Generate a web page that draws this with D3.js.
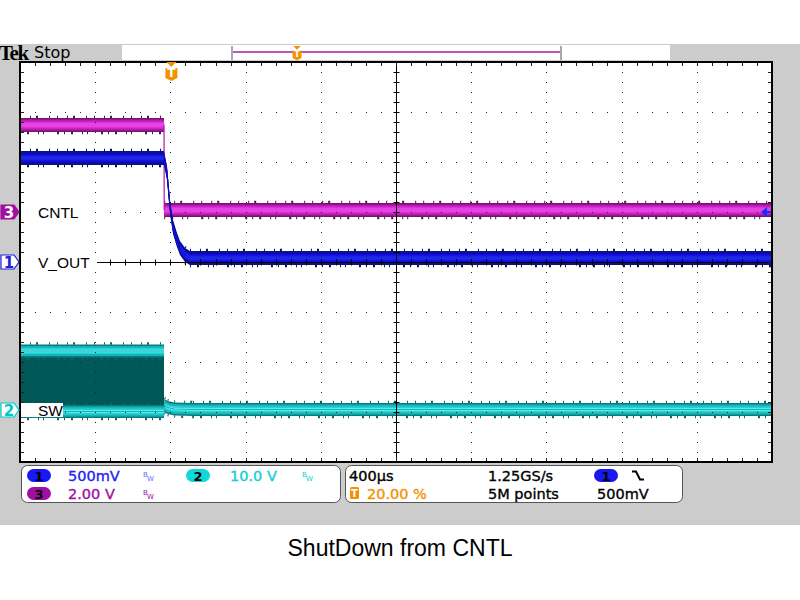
<!DOCTYPE html>
<html>
<head>
<meta charset="utf-8">
<script src="https://cdn.jsdelivr.net/npm/d3@7"></script>
<style>
  body { margin: 0; background: #fff; }
  svg text { font-family: "DejaVu Sans", sans-serif; }
  .ro { stroke-width: 0.35px; }
</style>
</head>
<body>
<svg id="scope" width="800" height="600"></svg>
<script>
// horizontal: 400 us/div over 10 div, trigger at 20 %
var timeRange = [-800, 3200];
// vertical settings per channel (V/div, ground position in div)
var ch1Scale = 0.5, ch1Pos = 0;
var ch2Scale = 10, ch2Pos = -2.96;
var ch3Scale = 2, ch3Pos = 1;

// CH3 CNTL
var cntlTime  = [-800, -34, -33, 3200];
var cntlVolts = [3.48, 3.48, 0.08, 0.08];
// CH1 V_OUT
var voutTime  = [-800, -34, -18, -2, 14, 35, 51, 78, 104, 3200];
var voutVolts = [1.04, 1.04, 0.89, 0.55, 0.35, 0.22, 0.14, 0.07, 0.04, 0.04];
// CH2 SW, switching burst before shutdown then the off level
var swBurstTime = [-800, -34];
var swBurstHigh = [11.8, 11.8];
var swBurstLow  = [-0.3, -0.3];
var swOffTime  = [-34, -31, -15, 20, 120, 3200];
var swOffVolts = [0, 0.9, 0.5, 0.2, 0.1, 0.1];

var chanLabels = ["CNTL", "V_OUT", "SW"];
var readCh = ["500mV", "10.0 V", "2.00 V"];
var readTime = ["400\u00b5s", "1.25GS/s", "20.00 %", "5M points", "500mV"];
var title = "ShutDown from CNTL";

var L = 20, R = 772, T = 62, B = 462;
var svg = d3.select("#scope");

svg.append("rect").attr("x", 0).attr("y", 44).attr("width", 800).attr("height", 481).attr("fill", "#cccccc");
svg.append("rect").attr("x", L).attr("y", T).attr("width", R - L).attr("height", B - T).attr("fill", "#fff");

var x = d3.scaleLinear().domain(timeRange).range([L, R]);
function chanY(vdiv, pos) {
  return d3.scaleLinear().domain([(-4 - pos) * vdiv, (4 - pos) * vdiv]).range([B, T]);
}
var y1 = chanY(ch1Scale, ch1Pos), y2 = chanY(ch2Scale, ch2Pos), y3 = chanY(ch3Scale, ch3Pos);

svg.append("clipPath").attr("id", "clip").append("rect")
  .attr("x", L).attr("y", T).attr("width", R - L).attr("height", B - T);
var plot = svg.append("g").attr("clip-path", "url(#clip)");

// thick noisy scope trace: layered bands, thin core and dashed spikes on the flat runs
function band(g, pts, y, layers, dark) {
  var h0 = layers[0][0];
  var flat = d3.pairs(pts).filter(function(p) {
    return Math.abs(y(p[0][1]) - y(p[1][1])) < 3;
  });
  flat.forEach(function(seg) {
    [-h0 - 1, h0 + 1].forEach(function(off, i) {
      g.append("path").datum(seg)
        .attr("d", d3.line().x(function(d) { return x(d[0]); }).y(function(d) { return y(d[1]) + off; }))
        .attr("fill", "none").attr("stroke", dark).attr("stroke-width", 2.5)
        .attr("stroke-dasharray", i ? "1,6,2,9,1,4,1,13,2,5" : "1,9,1,5,2,11,1,7");
    });
  });
  layers.forEach(function(l) {
    g.append("path").datum(pts)
      .attr("d", d3.area().x(function(d) { return x(d[0]); })
        .y0(function(d) { return y(d[1]) - l[0]; })
        .y1(function(d) { return y(d[1]) + l[0]; }))
      .attr("fill", l[1]);
  });
  g.append("path").datum(pts)
    .attr("d", d3.line().x(function(d) { return x(d[0]); }).y(function(d) { return y(d[1]); }))
    .attr("fill", "none").attr("stroke", layers[1][1]).attr("stroke-width", 1.2);
}

var cyanLayers = [[6.5, "#0a7c7e"], [5, "#16b4b6"], [3, "#26d2d4"], [1.2, "#6cf2f2"]];
var magLayers  = [[7, "#6c1a62"], [5.5, "#b818ae"], [3.5, "#e02ce0"], [1.2, "#ff7aff"]];
var blueLayers = [[7, "#0c1470"], [5.5, "#0a0ab8"], [3.5, "#1414e6"], [1.2, "#3a48ff"]];

// SW burst fill
var burst = d3.zip(swBurstTime, swBurstHigh, swBurstLow);
plot.append("path").datum(burst)
  .attr("d", d3.area().x(function(d) { return x(d[0]); })
    .y0(function(d) { return y2(d[1]) - 6; }).y1(function(d) { return y2(d[2]) + 6; }))
  .attr("fill", "#005858");
band(plot, d3.zip(swBurstTime, swBurstHigh), y2, cyanLayers, "#0a6a6a");
band(plot, d3.zip(swBurstTime, swBurstLow), y2, cyanLayers, "#0a6a6a");
band(plot, d3.zip(swOffTime, swOffVolts), y2, cyanLayers, "#0a6a6a");
band(plot, d3.zip(cntlTime, cntlVolts), y3, magLayers, "#5a1050");
band(plot, d3.zip(voutTime, voutVolts), y1, blueLayers, "#0a1060");

// graticule
var gx = d3.scaleLinear().domain([0, 10]).range([L, R]);
var gy = d3.scaleLinear().domain([0, 8]).range([T, B]);
var grid = svg.append("g");
var minorX = d3.range(0, 50.5).map(function(i) { return i / 5; });
var minorY = d3.range(0, 40.5).map(function(i) { return i / 5; });
d3.range(1, 10).filter(function(k) { return k !== 5; }).forEach(function(k) {
  grid.selectAll(null).data(minorY).enter().append("rect")
    .attr("x", Math.round(gx(k))).attr("y", function(d) { return Math.round(gy(d)); })
    .attr("width", 1).attr("height", 1).attr("fill", "#222");
});
d3.range(1, 8).filter(function(k) { return k !== 4; }).forEach(function(k) {
  grid.selectAll(null).data(minorX).enter().append("rect")
    .attr("x", function(d) { return Math.round(gx(d)); }).attr("y", Math.round(gy(k)))
    .attr("width", 1).attr("height", 1).attr("fill", "#222");
});
var cx = Math.round(gx(5)) + 0.5, cy = Math.round(gy(4)) + 0.5;
grid.append("line").attr("x1", cx).attr("x2", cx).attr("y1", T).attr("y2", B).attr("stroke", "#000");
grid.append("line").attr("x1", L).attr("x2", R).attr("y1", cy).attr("y2", cy).attr("stroke", "#000");
grid.selectAll(null).data(minorY).enter().append("line")
  .attr("x1", cx - 3).attr("x2", cx + 3)
  .attr("y1", function(d) { return Math.round(gy(d)) + 0.5; }).attr("y2", function(d) { return Math.round(gy(d)) + 0.5; })
  .attr("stroke", "#000");
grid.selectAll(null).data(minorX).enter().append("line")
  .attr("y1", cy - 3).attr("y2", cy + 3)
  .attr("x1", function(d) { return Math.round(gx(d)) + 0.5; }).attr("x2", function(d) { return Math.round(gx(d)) + 0.5; })
  .attr("stroke", "#000");
// edge ticks
grid.selectAll(null).data(minorX).enter().append("path")
  .attr("d", function(d) { var p = Math.round(gx(d)) + 0.5; return "M" + p + "," + (T + 1) + "v3M" + p + "," + (B - 4) + "v3"; })
  .attr("stroke", "#222");
grid.selectAll(null).data(minorY).enter().append("path")
  .attr("d", function(d) { var p = Math.round(gy(d)) + 0.5; return "M" + (L + 1) + "," + p + "h3M" + (R - 4) + "," + p + "h3"; })
  .attr("stroke", "#222");
svg.append("rect").attr("x", L).attr("y", T).attr("width", R - L).attr("height", B - T)
  .attr("fill", "none").attr("stroke", "#000").attr("stroke-width", 2);

// channel labels on the traces
var labY = [y3(0), y1(0), y2(0)];
var labW = [64, 76, 42];
chanLabels.forEach(function(t, i) {
  svg.append("rect").attr("x", L + 1).attr("y", labY[i] - 7).attr("width", labW[i]).attr("height", 14).attr("fill", "#fff");
  svg.append("text").attr("x", 38).attr("y", labY[i] + 6).attr("font-size", 15.5)
    .style("font-family", "'Liberation Sans', Arial, sans-serif").text(t);
});

// ground markers at left
var marks = [{n: "3", y: y3(0), fill: "#a010a0", stroke: "#a010a0", txt: "#fff"},
             {n: "1", y: y1(0), fill: "#fff", stroke: "#2020e0", txt: "#2020e0"},
             {n: "2", y: y2(0), fill: "#fff", stroke: "#00c8c8", txt: "#00c8c8"}];
marks.forEach(function(m) {
  svg.append("path").attr("d", "M1," + (m.y - 7) + "H14L19," + m.y + "L14," + (m.y + 7) + "H1Z")
    .attr("fill", m.fill).attr("stroke", m.stroke).attr("stroke-width", 1.2);
  svg.append("text").attr("x", 9).attr("y", m.y + 6).attr("text-anchor", "middle")
    .attr("font-size", 15).attr("font-weight", "bold").attr("fill", m.txt).text(m.n);
});

// trigger level arrow at right
svg.append("path").attr("d", "M761," + y3(0) + "L767," + (y3(0) - 5) + "V" + (y3(0) + 5) + "Z").attr("fill", "#1a2cff");
svg.append("line").attr("x1", 766).attr("x2", 771).attr("y1", y3(0)).attr("y2", y3(0)).attr("stroke", "#1a2cff").attr("stroke-width", 2);

// trigger position marker
var tx = x(0) + 1;
function trigTag(px, top, s) {
  svg.append("path").attr("d", "M" + (px - 5 * s) + "," + top + "h" + (10 * s) + "l" + (-5 * s) + "," + (5 * s) + "z").attr("fill", "#f39200");
  svg.append("path").attr("d", "M" + (px - 6 * s) + "," + (top + 6 * s) + "h" + (12 * s) + "v" + (10 * s) + "l-" + (6 * s) + "," + (3 * s) + "l-" + (6 * s) + ",-" + (3 * s) + "z").attr("fill", "#f39200");
  svg.append("text").attr("x", px).attr("y", top + 15 * s).attr("text-anchor", "middle")
    .attr("font-size", 12 * s).attr("font-weight", "bold").attr("fill", "#fff").text("T");
}
trigTag(tx, 62, 1);

// top bar
svg.append("text").attr("x", -1).attr("y", 60).attr("font-size", 21).attr("font-weight", "bold")
  .attr("letter-spacing", -1.5).style("font-family", "'Liberation Serif', serif").text("Tek");
svg.append("text").attr("x", 34).attr("y", 58).attr("font-size", 16).text("Stop");
svg.append("rect").attr("x", 122).attr("y", 45).attr("width", 548).attr("height", 15).attr("fill", "#fff");
svg.append("line").attr("x1", 232).attr("x2", 561).attr("y1", 52).attr("y2", 52).attr("stroke", "#a020a8").attr("stroke-width", 1.5);
[232, 561].forEach(function(p) {
  svg.append("line").attr("x1", p).attr("x2", p).attr("y1", 46).attr("y2", 60).attr("stroke", "#a8a8b4").attr("stroke-width", 2);
});
trigTag(297, 46, 0.75);

// readout panels
var panel = svg.append("g");
panel.append("rect").attr("x", 21.5).attr("y", 465.5).attr("width", 319).attr("height", 37).attr("rx", 6)
  .attr("fill", "#fff").attr("stroke", "#555");
panel.append("rect").attr("x", 345.5).attr("y", 465.5).attr("width", 337).attr("height", 37).attr("rx", 6)
  .attr("fill", "#fff").attr("stroke", "#555");
function pill(px, py, fill, n) {
  panel.append("rect").attr("x", px).attr("y", py).attr("width", 24).attr("height", 13).attr("rx", 6.5).attr("fill", fill);
  panel.append("text").attr("x", px + 12).attr("y", py + 11.5).attr("text-anchor", "middle")
    .attr("font-size", 13).attr("font-weight", "bold").attr("fill", "#000").text(n);
}
function bw(px, py, col) {
  panel.append("text").attr("x", px).attr("y", py - 4).attr("font-size", 7).attr("fill", col).text("B");
  panel.append("text").attr("x", px + 4).attr("y", py).attr("font-size", 7).attr("fill", col).text("W");
}
function ro(px, py, col, t) {
  panel.append("text").attr("class", "ro").attr("x", px).attr("y", py).attr("font-size", 14.5)
    .attr("fill", col).attr("stroke", col).text(t);
}
pill(27, 469, "#1818f0", "1");
ro(68, 481, "#2222ee", readCh[0]);
bw(143, 481, "#6a6aff");
pill(186, 469, "#10d8d8", "2");
ro(230, 481, "#10d0d0", readCh[1]);
bw(302, 481, "#10d0d0");
pill(27, 487, "#a010a0", "3");
ro(68, 499, "#a010a0", readCh[2]);
bw(143, 499, "#a010a0");

ro(349, 481, "#000", readTime[0]);
ro(488, 481, "#000", readTime[1]);
pill(594, 469, "#1818f0", "1");
panel.append("path").attr("d", "M632,471.5h4l4,8h4").attr("fill", "none").attr("stroke", "#000").attr("stroke-width", 2);
panel.append("rect").attr("x", 350).attr("y", 487).attr("width", 9).attr("height", 12).attr("rx", 1.5).attr("fill", "#f39200");
panel.append("text").attr("x", 354.5).attr("y", 497).attr("text-anchor", "middle").attr("font-size", 10).attr("font-weight", "bold").attr("fill", "#fff").text("T");
ro(367, 499, "#f39200", readTime[2]);
ro(488, 499, "#000", readTime[3]);
ro(597, 499, "#000", readTime[4]);

svg.append("text").attr("x", 400).attr("y", 556).attr("text-anchor", "middle").attr("font-size", 23)
  .style("font-family", "'Liberation Sans', Arial, sans-serif").text(title);
</script>
</body>
</html>
